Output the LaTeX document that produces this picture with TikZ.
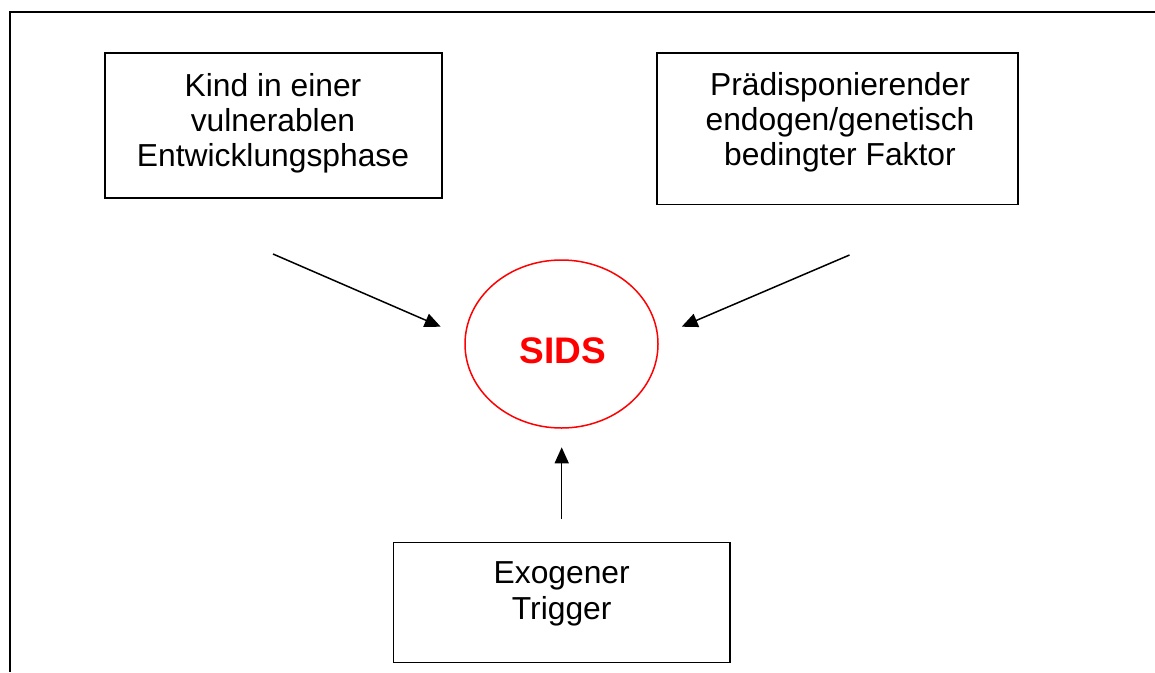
\documentclass[tikz,border=0pt]{standalone}
\usepackage{fontspec}
\setmainfont{Liberation Sans}
\usetikzlibrary{shapes.geometric,arrows.meta}
\begin{document}
\begin{tikzpicture}[x=1pt,y=1pt,
  boxnode/.style={draw=black,line width=1.5pt,rectangle,inner sep=0pt},
  txt/.style={inner sep=0pt,font=\fontsize{31.8}{35}\selectfont},
  arr/.style={line width=1.5pt,-{Triangle[length=16pt,width=14pt]}}]
\useasboundingbox (0,0) rectangle (1155,-672);
% frame
\draw[line width=2pt] (1155,-12) -- (10,-12) -- (10,-672);
% boxes
\node[boxnode,minimum width=337pt,minimum height=145pt] (kind) at (273.5,-125.5) {};
\node[txt] (kindtxt) at (273,-124.7) {\begin{tabular}{@{}c@{}}Kind in einer\\vulnerablen\\Entwicklungsphase\end{tabular}};
\node[boxnode,minimum width=361pt,minimum height=151.5pt] (pred) at (837.5,-128.75) {};
\node[txt] (predtxt) at (840,-123) {\begin{tabular}{@{}c@{}}Prädisponierender\\endogen/genetisch\\bedingter Faktor\end{tabular}};
\node[boxnode,minimum width=336.7pt,minimum height=120pt] (exo) at (561.7,-602.7) {};
\node[inner sep=0pt,font=\fontsize{31.8}{36.5}\selectfont] (exotxt) at (561.7,-594.4) {\begin{tabular}{@{}c@{}}Exogener\\Trigger\end{tabular}};
% SIDS
\node[draw=red,line width=1.5pt,ellipse,minimum width=193pt,minimum height=168pt,inner sep=0pt] (sids) at (561.5,-344) {};
\node[inner sep=0pt,text=red,font=\fontsize{37}{40}\selectfont\bfseries] (sidstxt) at (562.5,-350.5) {SIDS};
% arrows
\coordinate (a1s) at (273,-254);
\coordinate (a1e) at (440.7,-326.7);
\coordinate (a2s) at (849.5,-255);
\coordinate (a2e) at (681.7,-326.7);
\coordinate (a3s) at (561.7,-519);
\coordinate (a3e) at (561.7,-447.3);
\draw[arr] (a1s) -- (a1e);
\draw[arr] (a2s) -- (a2e);
\draw[arr] (a3s) -- (a3e);
\end{tikzpicture}
\end{document}
